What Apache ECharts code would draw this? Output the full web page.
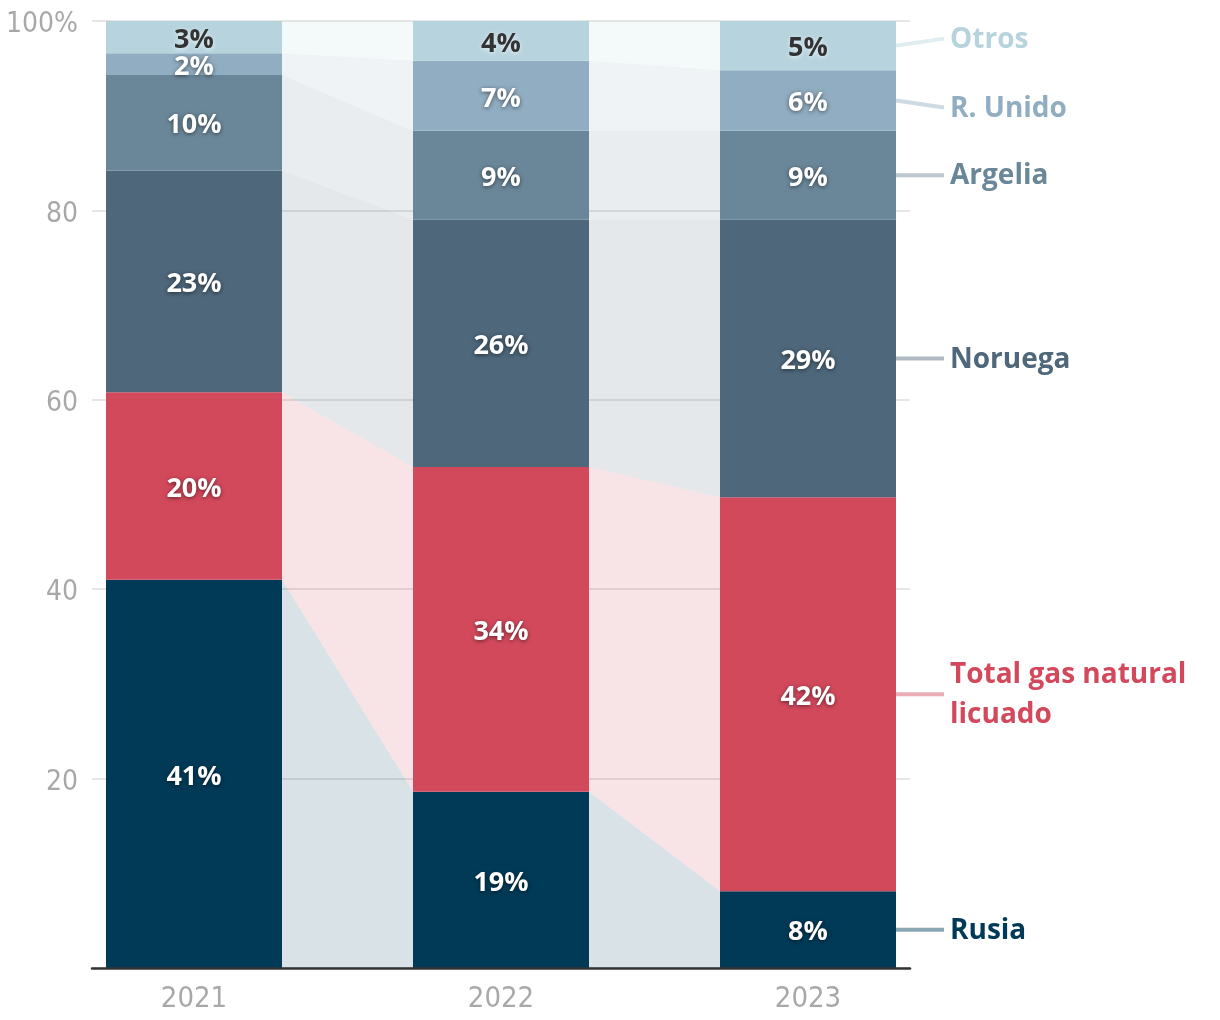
<!DOCTYPE html>
<html>
<head>
<meta charset="utf-8">
<script src="https://cdn.jsdelivr.net/npm/echarts@6/dist/echarts.min.js"></script>
<style>
  html, body { margin: 0; padding: 0; background: #fff; }
  #chart { width: 1220px; height: 1020px; }
</style>
</head>
<body>
<div id="chart"></div>
<script>
// ---- Data ----
const years = ['2021', '2022', '2023'];
const seriesNames = ['Rusia', 'Total gas natural licuado', 'Noruega', 'Argelia', 'R. Unido', 'Otros'];
const sideLabels = ['Rusia', 'Total gas natural\nlicuado', 'Noruega', 'Argelia', 'R. Unido', 'Otros'];
const rusia      = [41.0, 18.6, 8.1];
const gnl        = [19.8, 34.3, 41.6];
const noruega    = [23.4, 26.1, 29.3];
const argelia    = [10.1, 9.4, 9.4];
const reinoUnido = [2.3, 7.4, 6.4];
const otros      = [3.4, 4.2, 5.2];
const yTicks = [0, 20, 40, 60, 80, 100];

// ---- Styles ----
const colors = ['#003a57', '#d3495c', '#4e677b', '#6a8799', '#91adc1', '#b7d4de'];
const labelColors = ['#fff', '#fff', '#fff', '#fff', '#fff', '#333'];
const sideOffsets = [0, 0, 0, 0, 7, -7];
const BAR_FRAC = 176 / 307;
const boldFont = '"Open Sans", Roboto, sans-serif';
const axisFont = '"Liberation Sans Narrow", "DejaVu Sans Condensed", sans-serif';

const allSeries = [rusia, gnl, noruega, argelia, reinoUnido, otros];

// cumulative bottoms/tops
const bottoms = allSeries.map(() => []);
const tops = allSeries.map(() => []);
for (let i = 0; i < years.length; i++) {
  let acc = 0;
  for (let k = 0; k < allSeries.length; k++) {
    bottoms[k][i] = acc;
    acc += allSeries[k][i];
    tops[k][i] = acc;
  }
}

function hexToRgba(hex, a) {
  const n = parseInt(hex.slice(1), 16);
  return `rgba(${(n >> 16) & 255},${(n >> 8) & 255},${n & 255},${a})`;
}

// band data
const bandData = [];
for (let k = 0; k < allSeries.length; k++) {
  for (let i = 0; i < years.length - 1; i++) {
    bandData.push({ value: [i, bottoms[k][i], tops[k][i], bottoms[k][i + 1], tops[k][i + 1], k] });
  }
}

// side label data (last year)
const last = years.length - 1;
const sideData = allSeries.map((s, k) => ({
  value: [last, bottoms[k][last] + s[last] / 2, sideOffsets[k], k]
}));

const barSeries = allSeries.map((s, k) => ({
  name: seriesNames[k],
  type: 'bar',
  stack: 'total',
  xAxisIndex: 1,
  yAxisIndex: 1,
  barWidth: (BAR_FRAC * 100) + '%',
  data: s,
  itemStyle: { color: colors[k] },
  z: 3,
  label: {
    show: true,
    position: 'inside',
    offset: [0, 3],
    formatter: p => Math.round(p.value) + '%',
    color: labelColors[k],
    fontFamily: boldFont,
    fontWeight: 'bold',
    fontSize: 27,
    textShadowColor: k === 5 ? 'rgba(255,255,255,0.7)' : 'rgba(0,0,0,0.55)',
    textShadowBlur: 4,
    textShadowOffsetX: 0,
    textShadowOffsetY: 1
  },
  emphasis: { disabled: true }
}));

const bandSeries = {
  type: 'custom',
  xAxisIndex: 1,
  yAxisIndex: 1,
  z: 1,
  silent: true,
  encode: { x: 0, y: [1, 2, 3, 4] },
  data: bandData,
  renderItem: function (params, api) {
    const i = api.value(0);
    const k = api.value(5);
    const half = api.size([1, 0])[0] * BAR_FRAC / 2;
    const a = api.coord([i, api.value(1)]);
    const b = api.coord([i, api.value(2)]);
    const c = api.coord([i + 1, api.value(3)]);
    const d = api.coord([i + 1, api.value(4)]);
    return {
      type: 'polygon',
      shape: { points: [[a[0] + half, a[1]], [b[0] + half, b[1]], [d[0] - half, d[1]], [c[0] - half, c[1]]] },
      style: { fill: hexToRgba(colors[k], 0.15) }
    };
  }
};

const sideSeries = {
  type: 'custom',
  xAxisIndex: 1,
  yAxisIndex: 1,
  z: 4,
  silent: true,
  encode: { x: 0, y: 1 },
  data: sideData,
  renderItem: function (params, api) {
    const i = api.value(0);
    const k = api.value(3);
    const dy = api.value(2);
    const half = api.size([1, 0])[0] * BAR_FRAC / 2;
    const p = api.coord([i, api.value(1)]);
    const x0 = p[0] + half, y0 = p[1];
    const x1 = x0 + 48, y1 = y0 + dy;
    return {
      type: 'group',
      children: [
        {
          type: 'line',
          shape: { x1: x0, y1: y0, x2: x1, y2: y1 },
          style: { stroke: hexToRgba(colors[k], 0.45), lineWidth: 4 }
        },
        {
          type: 'text',
          x: x1 + 6,
          y: y1 + 1,
          style: {
            text: sideLabels[k],
            fill: colors[k],
            font: 'bold 28px ' + boldFont,
            lineHeight: 40,
            verticalAlign: 'middle',
            align: 'left'
          }
        }
      ]
    };
  }
};

const option = {
  animation: false,
  backgroundColor: '#fff',
  grid: [
    { left: 92, right: 310, top: 21, bottom: 52 },
    { left: 40.5, right: 258.5, top: 21, bottom: 52 }
  ],
  xAxis: [
    {
      gridIndex: 0, type: 'value', min: 0, max: 1, z: 10,
      axisLine: { show: true, lineStyle: { color: '#333', width: 2.5 } },
      axisTick: { show: false }, axisLabel: { show: false }, splitLine: { show: false }
    },
    {
      gridIndex: 1, type: 'category', data: years,
      axisLine: { show: false }, axisTick: { show: false },
      axisLabel: { color: '#a8a8a8', fontFamily: axisFont, fontSize: 29, margin: 17 }
    }
  ],
  yAxis: [
    {
      gridIndex: 0, type: 'value', min: yTicks[0], max: yTicks[yTicks.length - 1], interval: 20,
      axisLine: { show: false }, axisTick: { show: false },
      axisLabel: {
        color: '#a8a8a8', fontFamily: axisFont, fontSize: 28, margin: 14,
        verticalAlign: 'top', lineHeight: 8,
        formatter: v => v === 0 ? '' : (v === 100 ? v + '%' : String(v))
      },
      splitLine: { lineStyle: { color: '#dedede', width: 1.5 } }
    },
    {
      gridIndex: 1, type: 'value', min: 0, max: 100, show: false, splitLine: { show: false }
    }
  ],
  series: [bandSeries, ...barSeries, sideSeries]
};

const chart = echarts.init(document.getElementById('chart'), null, { renderer: 'canvas' });
chart.setOption(option);
</script>
</body>
</html>
